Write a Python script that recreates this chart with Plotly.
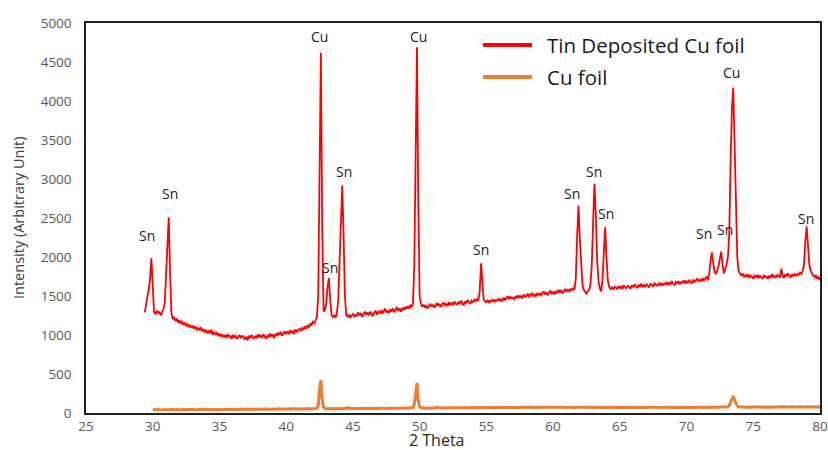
import numpy as np
import plotly.graph_objects as go

# ---------------- data ----------------
# Tin deposited Cu foil, 2-theta grid 29.0 .. 80.0 step 0.1 (one row per degree)
red_start = 29.0
red_intensity = [
    None, None, None, None, 1290, 1420, 1490, 1580, 1720, 1985,   # 29
    1500, 1290, 1270, 1310, 1280, 1300, 1250, 1290, 1330, 1410,   # 30
    1750, 2150, 2510, 1800, 1290, 1200, 1230, 1180, 1210, 1160,   # 31
    1190, 1150, 1170, 1130, 1160, 1120, 1140, 1100, 1130, 1090,   # 32
    1120, 1080, 1110, 1070, 1090, 1060, 1100, 1050, 1070, 1040,   # 33
    1060, 1030, 1050, 1020, 1070, 1000, 1040, 1010, 1030, 990,    # 34
    1020, 980, 1010, 970, 1000, 960, 1010, 980, 990, 950,         # 35
    1000, 970, 990, 950, 980, 1000, 960, 990, 970, 940,           # 36
    980, 930, 990, 960, 1000, 970, 950, 990, 960, 1010,           # 37
    970, 1000, 960, 1010, 980, 950, 1000, 970, 1020, 980,         # 38
    1010, 960, 1020, 990, 1030, 1000, 1040, 990, 1020, 1050,      # 39
    1010, 1040, 1020, 1060, 1030, 1050, 1010, 1070, 1040, 1060,   # 40
    1080, 1050, 1090, 1070, 1110, 1080, 1120, 1100, 1140, 1130,   # 41
    1170, 1150, 1200, 1230, 1500, 3000, 4620, 2400, 1300, 1320,   # 42
    1400, 1620, 1730, 1450, 1260, 1230, 1250, 1220, 1280, 1450,   # 43
    2000, 2600, 2920, 2300, 1500, 1260, 1230, 1260, 1220, 1250,   # 44
    1270, 1230, 1260, 1240, 1290, 1250, 1280, 1230, 1270, 1300,   # 45
    1260, 1290, 1250, 1300, 1270, 1240, 1290, 1310, 1260, 1300,   # 46
    1280, 1320, 1270, 1300, 1340, 1290, 1310, 1280, 1330, 1300,   # 47
    1340, 1290, 1320, 1360, 1310, 1340, 1300, 1350, 1320, 1360,   # 48
    1330, 1370, 1340, 1380, 1360, 1400, 1900, 3700, 4690, 2700,   # 49
    1500, 1400, 1360, 1390, 1350, 1380, 1340, 1370, 1400, 1360,   # 50
    1390, 1350, 1380, 1410, 1370, 1400, 1360, 1390, 1420, 1380,   # 51
    1400, 1370, 1420, 1390, 1410, 1380, 1430, 1400, 1390, 1420,   # 52
    1400, 1440, 1410, 1380, 1430, 1410, 1450, 1420, 1400, 1440,   # 53
    1420, 1450, 1430, 1460, 1440, 1560, 1920, 1680, 1460, 1430,   # 54
    1420, 1450, 1410, 1440, 1430, 1460, 1420, 1450, 1440, 1470,   # 55
    1440, 1460, 1430, 1480, 1450, 1470, 1500, 1460, 1490, 1470,   # 56
    1480, 1460, 1500, 1470, 1510, 1480, 1500, 1470, 1520, 1490,   # 57
    1500, 1530, 1490, 1510, 1540, 1500, 1520, 1490, 1530, 1510,   # 58
    1540, 1510, 1530, 1560, 1520, 1550, 1510, 1540, 1570, 1530,   # 59
    1550, 1520, 1560, 1540, 1580, 1550, 1570, 1530, 1560, 1590,   # 60
    1550, 1580, 1560, 1590, 1570, 1600, 1580, 1720, 2250, 2660,   # 61
    2250, 1850, 1640, 1580, 1560, 1530, 1560, 1580, 1650, 1900,   # 62
    2450, 2940, 2550, 1950, 1700, 1600, 1560, 1700, 2050, 2380,   # 63
    2000, 1700, 1620, 1590, 1610, 1580, 1620, 1600, 1590, 1630,   # 64
    1600, 1620, 1590, 1640, 1610, 1600, 1630, 1620, 1590, 1640,   # 65
    1610, 1650, 1620, 1600, 1640, 1620, 1660, 1610, 1640, 1620,   # 66
    1650, 1630, 1610, 1660, 1640, 1620, 1670, 1640, 1630, 1660,   # 67
    1640, 1670, 1630, 1660, 1650, 1680, 1640, 1670, 1650, 1690,   # 68
    1660, 1640, 1680, 1660, 1690, 1650, 1680, 1670, 1700, 1660,   # 69
    1690, 1670, 1700, 1680, 1660, 1710, 1680, 1700, 1720, 1690,   # 70
    1710, 1690, 1730, 1700, 1720, 1750, 1700, 1780, 1950, 2060,   # 71
    1920, 1810, 1780, 1820, 1880, 1980, 2070, 1900, 1790, 1850,   # 72
    1900, 2000, 2300, 3200, 3900, 4170, 3500, 2500, 2000, 1820,   # 73
    1780, 1760, 1790, 1740, 1770, 1750, 1780, 1730, 1760, 1750,   # 74
    1720, 1760, 1740, 1770, 1730, 1760, 1740, 1720, 1770, 1740,   # 75
    1750, 1720, 1760, 1730, 1780, 1740, 1760, 1730, 1770, 1750,   # 76
    1740, 1850, 1760, 1730, 1780, 1750, 1790, 1760, 1740, 1780,   # 77
    1750, 1790, 1760, 1780, 1770, 1800, 1780, 1820, 1900, 2200,   # 78
    2390, 2150, 1900, 1820, 1780, 1760, 1740, 1770, 1720, 1740,   # 79
    1700,                                                         # 80
]

# Bare Cu foil, 2-theta grid 30.0 .. 80.0 step 0.1
orange_start = 30.0
orange_intensity = [
    40, 45, 38, 42, 47, 40, 44, 39, 43, 46,      # 30
    41, 45, 38, 44, 42, 47, 40, 43, 46, 41,      # 31
    44, 39, 46, 42, 40, 45, 43, 48, 41, 44,      # 32
    46, 42, 45, 40, 47, 43, 44, 48, 42, 45,      # 33
    43, 47, 41, 46, 44, 42, 48, 45, 43, 47,      # 34
    45, 42, 48, 44, 46, 43, 49, 45, 47, 44,      # 35
    48, 45, 43, 49, 46, 44, 50, 47, 45, 48,      # 36
    46, 50, 44, 48, 47, 51, 45, 49, 47, 50,      # 37
    48, 46, 52, 47, 50, 48, 53, 46, 51, 49,      # 38
    50, 47, 52, 49, 54, 48, 51, 50, 53, 49,      # 39
    52, 49, 55, 50, 53, 51, 56, 50, 54, 52,      # 40
    53, 50, 56, 52, 55, 51, 57, 53, 55, 52,      # 41
    56, 54, 58, 60, 90, 300, 420, 180, 75, 58,   # 42
    55, 57, 53, 58, 56, 54, 59, 55, 57, 53,      # 43
    58, 55, 60, 56, 62, 57, 70, 58, 56, 60,      # 44
    57, 61, 56, 59, 62, 58, 60, 57, 63, 59,      # 45
    60, 57, 62, 58, 61, 59, 64, 58, 62, 60,      # 46
    58, 62, 59, 63, 60, 57, 62, 59, 64, 60,      # 47
    61, 58, 63, 60, 62, 59, 64, 61, 60, 63,      # 48
    60, 63, 61, 64, 62, 70, 110, 300, 385, 160,  # 49
    80, 66, 62, 65, 61, 64, 62, 66, 63, 65,      # 50
    62, 66, 63, 75, 64, 67, 63, 65, 68, 64,      # 51
    66, 63, 67, 65, 68, 64, 66, 69, 65, 67,      # 52
    64, 68, 65, 67, 70, 66, 68, 65, 69, 67,      # 53
    66, 69, 67, 70, 66, 68, 71, 67, 69, 66,      # 54
    70, 67, 69, 72, 68, 70, 67, 71, 69, 72,      # 55
    68, 71, 69, 73, 70, 68, 72, 70, 74, 69,      # 56
    72, 70, 74, 71, 69, 73, 71, 75, 70, 72,      # 57
    74, 71, 73, 76, 72, 74, 70, 75, 73, 71,      # 58
    75, 72, 76, 73, 71, 75, 74, 77, 72, 74,      # 59
    73, 76, 72, 75, 74, 71, 76, 73, 75, 72,      # 60
    74, 71, 75, 73, 76, 72, 74, 70, 75, 73,      # 61
    72, 75, 71, 74, 73, 76, 72, 74, 71, 75,      # 62
    73, 70, 74, 72, 75, 71, 73, 76, 72, 74,      # 63
    71, 74, 72, 75, 70, 73, 72, 74, 71, 75,      # 64
    73, 71, 74, 72, 70, 75, 72, 73, 71, 74,      # 65
    72, 74, 70, 73, 75, 71, 74, 72, 73, 70,      # 66
    74, 71, 73, 75, 72, 70, 74, 73, 71, 75,      # 67
    72, 74, 71, 73, 76, 72, 74, 70, 73, 75,      # 68
    71, 74, 72, 75, 73, 71, 76, 72, 74, 73,      # 69
    75, 72, 74, 71, 76, 73, 75, 72, 74, 77,      # 70
    73, 75, 72, 76, 74, 71, 75, 73, 77, 74,      # 71
    72, 76, 74, 73, 77, 75, 74, 78, 75, 76,      # 72
    78, 80, 95, 130, 180, 218, 170, 120, 90, 80, # 73
    76, 74, 77, 75, 73, 78, 75, 76, 74, 77,      # 74
    75, 78, 74, 76, 79, 75, 77, 74, 78, 76,      # 75
    77, 74, 79, 76, 75, 78, 76, 80, 75, 77,      # 76
    76, 79, 77, 75, 80, 77, 78, 76, 79, 77,      # 77
    78, 76, 80, 77, 79, 76, 81, 78, 77, 80,      # 78
    77, 80, 78, 81, 79, 77, 82, 78, 80, 79,      # 79
    78,                                          # 80
]

# Peak labels (text, 2-theta anchor, intensity anchor)
peak_text = ["Sn", "Sn", "Cu", "Sn", "Sn", "Cu", "Sn", "Sn", "Sn", "Sn", "Sn", "Sn", "Cu", "Sn"]
peak_x = [29.6, 31.3, 42.5, 43.3, 44.35, 49.9, 54.6, 61.45, 63.1, 63.95, 71.3, 72.85, 73.4, 78.95]
peak_y = [2270, 2820, 4830, 1860, 3090, 4830, 2090, 2820, 3100, 2560, 2295, 2350, 4360, 2490]

series_names = ["Tin Deposited Cu foil", "Cu foil"]
series_colors = ["#FF0000", "#ED7D31"]

x_ticks = [25, 30, 35, 40, 45, 50, 55, 60, 65, 70, 75, 80]
y_ticks = [0, 500, 1000, 1500, 2000, 2500, 3000, 3500, 4000, 4500, 5000]

# ---------------- figure ----------------
red_x = np.round(red_start + 0.1 * np.arange(len(red_intensity)), 1)
orange_x = np.round(orange_start + 0.1 * np.arange(len(orange_intensity)), 1)

fig = go.Figure()
fig.add_trace(go.Scatter(x=orange_x, y=orange_intensity, mode="lines", name=series_names[1],
                         line=dict(color=series_colors[1], width=3), showlegend=False))
fig.add_trace(go.Scatter(x=red_x, y=red_intensity, mode="lines", name=series_names[0],
                         line=dict(color=series_colors[0], width=1.8), showlegend=False))

FONT = "Open Sans"
annotations = []
for t, px, py in zip(peak_text, peak_x, peak_y):
    annotations.append(dict(x=px, y=py, xref="x", yref="y", text=t, showarrow=False,
                            font=dict(family=FONT, size=14, color="#1a1a1a")))

# manual legend (top-right, inside the frame)
shapes = []
leg_rows = [0.9436, 0.8615]
for name, col, yy in zip(series_names, series_colors, leg_rows):
    shapes.append(dict(type="line", xref="paper", yref="paper", x0=0.541, x1=0.6076,
                       y0=yy, y1=yy, line=dict(color=col, width=4)))
    annotations.append(dict(x=0.625, y=yy, xref="paper", yref="paper", text=name,
                            xanchor="left", yanchor="middle", showarrow=False,
                            font=dict(family=FONT, size=20.5, color="#1a1a1a")))

# axis titles
annotations.append(dict(x=0, y=0.5, xref="paper", yref="paper", xshift=-68,
                        text="Intensity (Arbitrary Unit)", textangle=-90, showarrow=False,
                        xanchor="center", yanchor="middle",
                        font=dict(family=FONT, size=14.5, color="#404040")))
annotations.append(dict(x=51.3, y=0, xref="x", yref="paper", yshift=-27,
                        text="2 Theta", showarrow=False, xanchor="center", yanchor="middle",
                        font=dict(family=FONT, size=16, color="#262626")))

fig.update_layout(
    width=828, height=450,
    margin=dict(l=86, r=8, t=23, b=37, autoexpand=False),
    paper_bgcolor="white", plot_bgcolor="white",
    showlegend=False,
    annotations=annotations,
    shapes=shapes,
    xaxis=dict(range=[25, 80], tickvals=x_ticks, ticktext=[str(v) for v in x_ticks],
               showgrid=False, zeroline=False, showline=True, linecolor="#222222",
               linewidth=1.5, mirror=True, ticks="", automargin=False,
               tickfont=dict(family=FONT, size=13.5, color="#595959")),
    yaxis=dict(range=[0, 5000], tickvals=y_ticks, ticktext=[str(v) for v in y_ticks],
               showgrid=False, zeroline=False, showline=True, linecolor="#222222",
               linewidth=1.5, mirror=True, ticks="", ticklabelstandoff=10, automargin=False,
               tickfont=dict(family=FONT, size=13.5, color="#595959")),
)

fig.write_html("out.html")
